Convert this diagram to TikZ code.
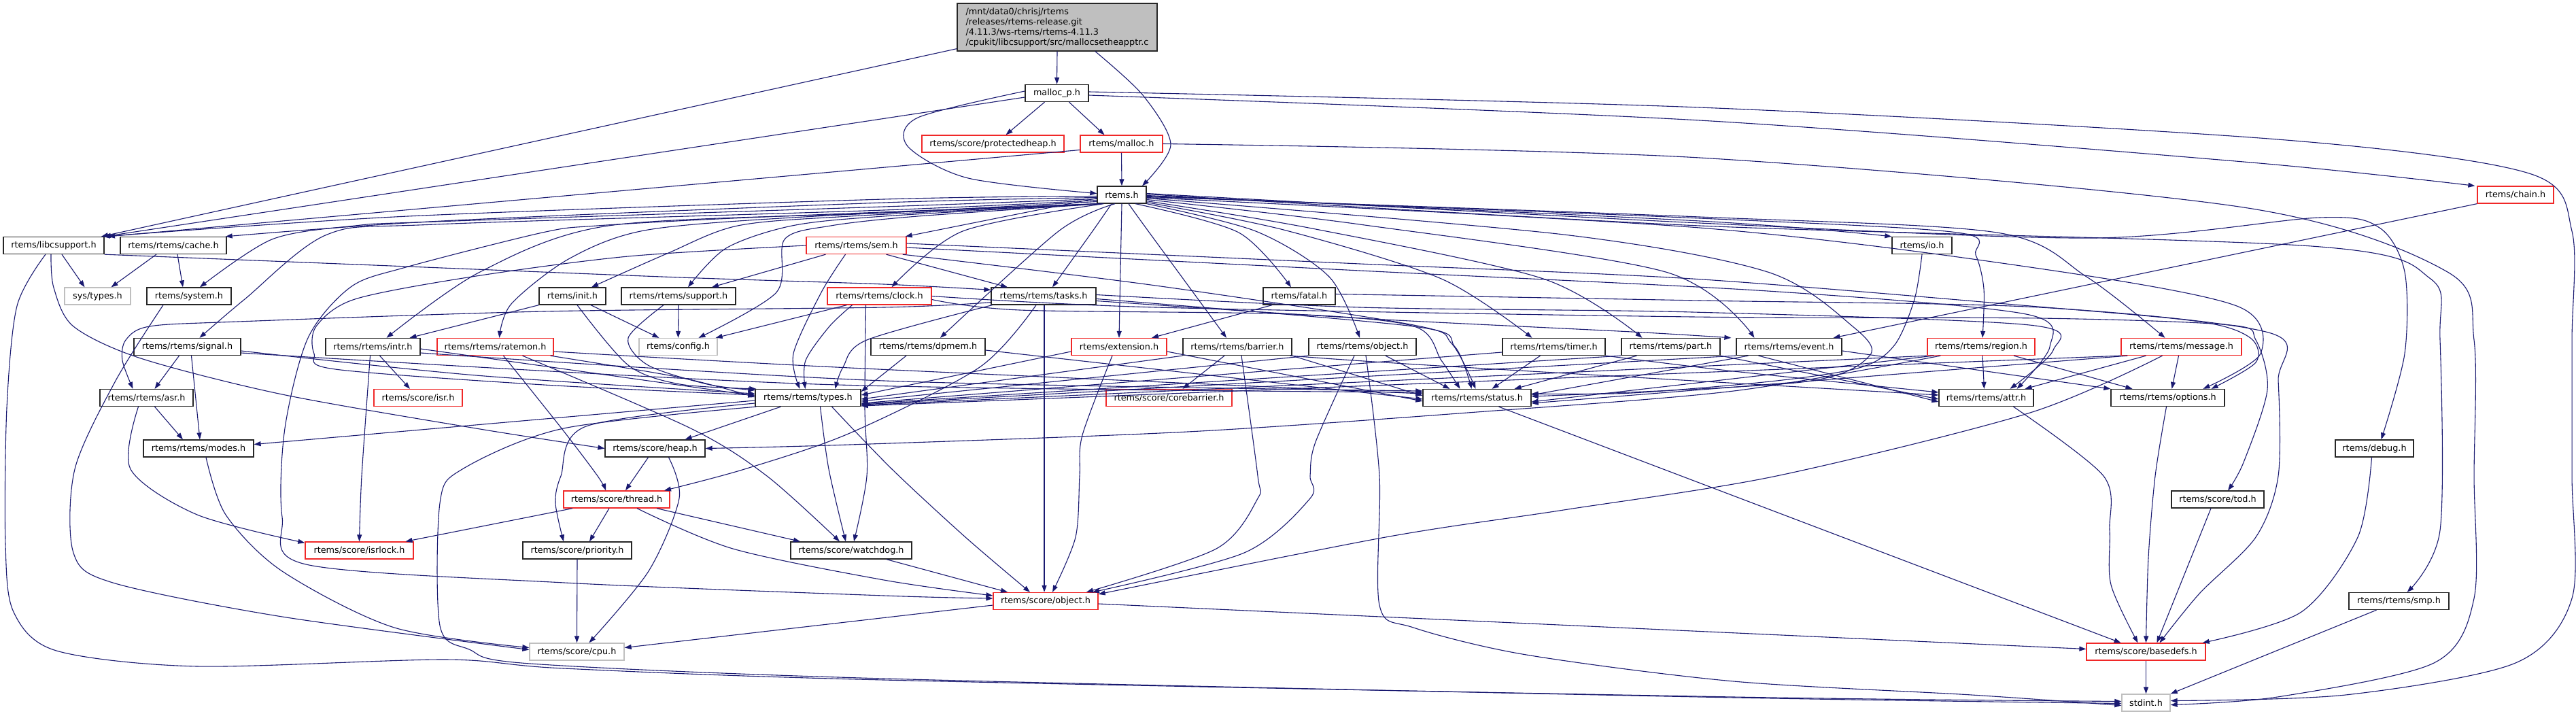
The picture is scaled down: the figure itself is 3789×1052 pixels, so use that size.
\documentclass[tikz,border=0pt]{standalone}
\usepackage{fontspec}
\newfontfamily\djv{DejaVu Sans}
\usetikzlibrary{arrows.meta}
\definecolor{navy}{RGB}{25,25,112}
\definecolor{nred}{RGB}{240,40,40}
\definecolor{ngray}{RGB}{191,191,191}
\tikzset{
  nb/.style={draw=black!85, line width=1.3pt, minimum height=25pt, inner sep=0pt, font={\djv\fontsize{12.8pt}{15pt}\selectfont}},
  nr/.style={nb, draw=nred},
  ng/.style={nb, draw=ngray},
  e/.style={draw=navy, line width=1.1pt, -{Triangle[length=10pt,width=7pt]}},
}
\begin{document}
\begin{tikzpicture}[x=1pt,y=1pt]
\useasboundingbox (0,0) rectangle (3789,-1052);
% nodes
\node[nb, fill=ngray, minimum width=294, minimum height=70, align=left] (T) at (1555,-40) {/mnt/data0/chrisj/rtems\\/releases/rtems-release.git\\/4.11.3/ws-rtems/rtems-4.11.3\\/cpukit/libcsupport/src/mallocsetheapptr.c};
\node[nb, minimum width=93] (MP) at (1554.5,-137) {malloc\_p.h};
\node[nr, minimum width=209] (PH) at (1460.5,-211.5) {rtems/score/protectedheap.h};
\node[nr, minimum width=121] (ML) at (1649.5,-211.5) {rtems/malloc.h};
\node[nb, minimum width=72] (R) at (1650,-286.5) {rtems.h};
\node[nr, minimum width=112] (CH) at (3700,-286.5) {rtems/chain.h};
\node[nb, minimum width=148] (LS) at (79,-361) {rtems/libcsupport.h};
\node[nb, minimum width=156] (CA) at (255,-361) {rtems/rtems/cache.h};
\node[nr, minimum width=147] (SEM) at (1259.5,-361) {rtems/rtems/sem.h};
\node[nb, minimum width=88] (IO) at (2827,-361) {rtems/io.h};
\node[ng, minimum width=97] (ST) at (143.5,-435.5) {sys/types.h};
\node[nb, minimum width=124] (SYS) at (278,-435.5) {rtems/system.h};
\node[nb, minimum width=98] (INIT) at (842,-435.5) {rtems/init.h};
\node[nb, minimum width=168] (SUP) at (998,-435.5) {rtems/rtems/support.h};
\node[nr, minimum width=153] (CLK) at (1293.5,-435.5) {rtems/rtems/clock.h};
\node[nb, minimum width=154] (TSK) at (1535,-435.5) {rtems/rtems/tasks.h};
\node[nb, minimum width=106] (FAT) at (1911,-435.5) {rtems/fatal.h};
\node[nb, minimum width=157] (SIG) at (275.5,-510) {rtems/rtems/signal.h};
\node[nb, minimum width=139] (INTR) at (548.5,-510) {rtems/rtems/intr.h};
\node[nr, minimum width=171] (RAT) at (728.5,-510) {rtems/rtems/ratemon.h};
\node[ng, minimum width=115] (CFG) at (997.5,-510) {rtems/config.h};
\node[nb, minimum width=168] (DPM) at (1365,-510) {rtems/rtems/dpmem.h};
\node[nr, minimum width=140] (EXT) at (1646,-510) {rtems/extension.h};
\node[nb, minimum width=160] (BAR) at (1820,-510) {rtems/rtems/barrier.h};
\node[nb, minimum width=158] (OBJ) at (2004,-510) {rtems/rtems/object.h};
\node[nb, minimum width=151] (TIM) at (2285.5,-510) {rtems/rtems/timer.h};
\node[nb, minimum width=145] (PART) at (2457.5,-510) {rtems/rtems/part.h};
\node[nb, minimum width=155] (EVT) at (2631.5,-510) {rtems/rtems/event.h};
\node[nr, minimum width=158] (REG) at (2914,-510) {rtems/rtems/region.h};
\node[nr, minimum width=177] (MSG) at (3208.5,-510) {rtems/rtems/message.h};
\node[nb, minimum width=137] (ASR) at (215.5,-585) {rtems/rtems/asr.h};
\node[nr, minimum width=130] (ISR) at (615,-585) {rtems/score/isr.h};
\node[nb, minimum width=155] (TYP) at (1188.5,-585) {rtems/rtems/types.h};
\node[nr, minimum width=185] (CB) at (1719.5,-585) {rtems/score/corebarrier.h};
\node[nb, minimum width=159] (STA) at (2172.5,-585) {rtems/rtems/status.h};
\node[nb, minimum width=139] (ATT) at (2921.5,-585) {rtems/rtems/attr.h};
\node[nb, minimum width=167] (OPT) at (3188.5,-585) {rtems/rtems/options.h};
\node[nb, minimum width=162] (MOD) at (292,-659.5) {rtems/rtems/modes.h};
\node[nb, minimum width=147] (HEAP) at (963.5,-659.5) {rtems/score/heap.h};
\node[nb, minimum width=115] (DBG) at (3492.5,-659.5) {rtems/debug.h};
\node[nr, minimum width=156] (THR) at (907,-734.5) {rtems/score/thread.h};
\node[nb, minimum width=136] (TOD) at (3262,-734.5) {rtems/score/tod.h};
\node[nr, minimum width=159] (ISRL) at (528.5,-809.5) {rtems/score/isrlock.h};
\node[nb, minimum width=160] (PRI) at (849,-809.5) {rtems/score/priority.h};
\node[nb, minimum width=178] (WD) at (1252,-809.5) {rtems/score/watchdog.h};
\node[nr, minimum width=154] (SOBJ) at (1538,-884) {rtems/score/object.h};
\node[nb, minimum width=147] (SMP) at (3528.5,-884) {rtems/rtems/smp.h};
\node[ng, minimum width=139] (CPU) at (848.5,-958.5) {rtems/score/cpu.h};
\node[nr, minimum width=175] (BD) at (3156.5,-958.5) {rtems/score/basedefs.h};
\node[ng, minimum width=71] (STD) at (3156.5,-1033.5) {stdint.h};
% ---- edges: top file
\draw[e] (T.south) -- (MP.north);
\draw[e] plot[smooth] coordinates {([xshift=56]T.south) (1681,-140) (1722,-213) ([xshift=30]R.north)};
\draw[e] ([yshift=4]T.south west) -- ([xshift=70]LS.north);
% malloc_p.h
\draw[e] plot[smooth] coordinates {([yshift=3]MP.west) (1350,-173) (1335,-215) (1424,-262) ([yshift=2]R.west)};
\draw[e] ([yshift=-6]MP.west) -- ([xshift=74]LS.north);
\draw[e] ([xshift=-18]MP.south) -- ([xshift=19]PH.north);
\draw[e] ([xshift=18]MP.south) -- ([xshift=-25]ML.north);
\draw[e] plot[smooth] coordinates {([yshift=-3]MP.east) (2500,-177) (3300,-238) ([xshift=-3]CH.north west)};
\draw[e] plot[smooth] coordinates {([yshift=2]MP.east) (2500,-158) (3350,-205) (3720,-255) (3783,-340) (3783,-500) (3783,-700) (3783,-880) (3700,-975) (3450,-1022) ([yshift=3]STD.east)};
% malloc.h
\draw[e] (ML.south) -- (R.north);
\draw[e] ([yshift=-9]ML.west) -- ([xshift=80]LS.north);
\draw[e] plot[smooth] coordinates {(ML.east) (2500,-232) (3300,-305) (3600,-400) (3639,-500) (3639,-700) (3639,-880) (3580,-975) (3350,-1025) ([yshift=-3]STD.east)};
% chain.h
\draw[e] (CH.south west) -- ([xshift=65]EVT.north);
% rtems.h
\draw[e] plot[smooth] coordinates {([yshift=-2]R.west) (1300,-293) (600,-318) ([xshift=-2]LS.north east)};
\draw[e] plot[smooth] coordinates {([yshift=-4]R.west) (1300,-298) (650,-325) ([xshift=-2]CA.north east)};
\draw[e] plot[smooth] coordinates {([yshift=-6]R.west) (1300,-304) (640,-326) (522,-332) (400,-352) ([xshift=16]SYS.north)};
\draw[e] plot[smooth] coordinates {([yshift=-8]R.west) (1300,-309) (640,-330) (481,-345) (360,-440) ([xshift=18]SIG.north)};
\draw[e] plot[smooth] coordinates {([yshift=-10]R.west) (1300,-313) (895,-332) (706,-400) ([xshift=20]INTR.north)};
\draw[e] plot[smooth] coordinates {([xshift=2]R.south west) (1200,-318) (953,-338) (838,-380) (752,-447) ([xshift=6]RAT.north)};
\draw[e] plot[smooth] coordinates {([xshift=4]R.south west) (1250,-318) (1085,-332) (981,-373) ([xshift=28]INIT.north)};
\draw[e] plot[smooth] coordinates {([xshift=6]R.south west) (1300,-318) (1165,-332) (1068,-365) ([xshift=14]SUP.north)};
\draw[e] plot[smooth] coordinates {([xshift=8]R.south west) (1350,-318) (1222,-332) (1154,-352) (1142,-430) ([xshift=30]CFG.north)};
\draw[e] ([yshift=-5]R.west) -- ([xshift=-2]SEM.north east);
\draw[e] plot[smooth] coordinates {([xshift=10]R.south west) (1416,-340) ([xshift=18]CLK.north)};
\draw[e] plot[smooth] coordinates {([xshift=-15]R.south) (1607,-340) ([xshift=13]TSK.north)};
\draw[e] plot[smooth] coordinates {([xshift=-10]R.south) (1557,-340) ([xshift=18]DPM.north)};
\draw[e] (R.south) -- (EXT.north);
\draw[e] plot[smooth] coordinates {([xshift=10]R.south) (1689,-340) ([xshift=-16]BAR.north)};
\draw[e] plot[smooth] coordinates {([xshift=20]R.south) (1822,-342) ([xshift=-12]FAT.north)};
\draw[e] plot[smooth] coordinates {(R.south east) (1847,-340) (1955,-407) ([xshift=-4]OBJ.north)};
\draw[e] plot[smooth] coordinates {([yshift=2]R.south east) (1888,-338) (2120,-410) ([xshift=-32]TIM.north)};
\draw[e] plot[smooth] coordinates {([yshift=4]R.south east) (1930,-336) (2270,-410) ([xshift=-42]PART.north)};
\draw[e] plot[smooth] coordinates {([yshift=-7]R.east) (2000,-330) (2450,-400) ([xshift=-51]EVT.north)};
\draw[e] plot[smooth] coordinates {([yshift=-1]R.east) (2500,-325) (IO.north west)};
\draw[e] plot[smooth] coordinates {([yshift=-2]R.east) (2500,-321) (2879,-342) (2906,-375) (2918,-425) ([xshift=2]REG.north)};
\draw[e] plot[smooth] coordinates {([yshift=-3]R.east) (2500,-319) (2937,-342) (3069,-407) ([xshift=-24]MSG.north)};
\draw[e] plot[smooth] coordinates {([yshift=-5]R.east) (2300,-345) (2600,-400) (2725,-480) (2750,-523) (2650,-562) ([yshift=2]STA.east)};
\draw[e] plot[smooth] coordinates {([yshift=-4]R.east) (2500,-335) (3000,-395) (3290,-450) (3325,-520) ([xshift=52]OPT.north)};
\draw[e] plot[smooth] coordinates {([yshift=2]R.east) (2500,-328) (3080,-350) (3412,-320) (3500,-335) (3537,-400) (3537,-520) ([xshift=10]DBG.north)};
\draw[e] plot[smooth] coordinates {([yshift=1]R.east) (2500,-332) (3400,-362) (3575,-410) (3589,-500) (3589,-780) ([xshift=12]SMP.north)};
\draw[e] plot[smooth] coordinates {(R.south west) (1100,-320) (878,-332) (798,-342) (597,-393) (516,-422) (453,-497) (419,-630) (415,-760) (450,-830) (830,-857) (1300,-876) ([yshift=4]SOBJ.west)};
% sem.h
\draw[e] plot[smooth] coordinates {(SEM.west) (924,-377) (694,-407) (522,-440) (465,-480) (462,-520) (493,-543) (800,-566) ([yshift=4]TYP.west)};
\draw[e] plot[smooth] coordinates {([xshift=-16]SEM.south) (1208,-430) (1167,-520) ([xshift=-12]TYP.north)};
\draw[e] ([xshift=-45]SEM.south) -- ([xshift=49]SUP.north);
\draw[e] ([xshift=44]SEM.south) -- ([xshift=-53]TSK.north);
\draw[e] plot[smooth] coordinates {([xshift=-6]SEM.south east) (1700,-420) (2079,-478) (2135,-505) ([xshift=-2]STA.north)};
\draw[e] plot[smooth] coordinates {([yshift=3]SEM.east) (2000,-388) (2489,-410) (2986,-450) (3235,-473) (3310,-497) (3318,-533) ([xshift=64]OPT.north)};
\draw[e] plot[smooth] coordinates {([yshift=-3]SEM.east) (2000,-398) (2600,-428) (2980,-462) (3015,-510) ([xshift=45]ATT.north)};
% libcsupport.h
\draw[e] ([xshift=12]LS.south) -- ([xshift=-19]ST.north);
\draw[e] plot[smooth] coordinates {(LS.south east) (600,-392) (1000,-408) (1300,-418) ([yshift=-4]TSK.north west)};
\draw[e] plot[smooth] coordinates {([xshift=-4]LS.south) (79,-423) (108,-480) (207,-527) (415,-580) (700,-630) (HEAP.west)};
\draw[e] plot[smooth] coordinates {([xshift=-12]LS.south) (25,-450) (10,-600) (8,-800) (20,-900) (83,-957) (290,-980) (655,-970) (829,-983) (1300,-1000) (2550,-1025) ([yshift=2]STD.west)};
% cache.h, system.h
\draw[e] ([xshift=-25]CA.south) -- ([xshift=20]ST.north);
\draw[e] ([xshift=6]CA.south) -- ([xshift=-9]SYS.north);
\draw[e] plot[smooth] coordinates {([xshift=-38]SYS.south) (170,-560) (110,-690) (108,-813) (166,-857) (415,-907) ([yshift=3]CPU.west)};
% signal.h, asr.h, modes.h
\draw[e] ([xshift=-12]SIG.south) -- ([xshift=12]ASR.north);
\draw[e] ([xshift=6]SIG.south) -- ([xshift=2]MOD.north);
\draw[e] plot[smooth] coordinates {([yshift=-6]SIG.east) (700,-552) ([yshift=6]TYP.west)};
\draw[e] plot[smooth] coordinates {([yshift=-9]SIG.east) (1200,-565) ([yshift=8]STA.west)};
\draw[e] ([xshift=12]ASR.south) -- ([xshift=-23]MOD.north);
\draw[e] plot[smooth] coordinates {([xshift=-12]ASR.south) (192,-690) (290,-757) ([yshift=-2]ISRL.north west)};
\draw[e] plot[smooth] coordinates {([xshift=11]MOD.south) (332,-757) (415,-840) (580,-923) ([yshift=6]CPU.west)};
% intr.h
\draw[e] ([xshift=10]INTR.south) -- ([xshift=-12]ISR.north);
\draw[e] plot[smooth] coordinates {([xshift=-4]INTR.south) (532,-700) (ISRL.north)};
\draw[e] ([yshift=-3]INTR.east) -- ([yshift=3]TYP.west);
\draw[e] plot[smooth] coordinates {([yshift=-9]INTR.east) (1300,-560) ([yshift=10]STA.west)};
% init.h, support.h
\draw[e] (INIT.south west) -- ([xshift=54]INTR.north);
\draw[e] ([xshift=27]INIT.south) -- ([xshift=-28]CFG.north);
\draw[e] plot[smooth] coordinates {([xshift=7]INIT.south) (924,-537) (1000,-565) ([xshift=2]TYP.north west)};
\draw[e] (SUP.south) -- (CFG.north);
\draw[e] plot[smooth] coordinates {([xshift=-22]SUP.south) (924,-497) (953,-537) (1040,-565) ([yshift=-2]TYP.north west)};
% ratemon.h
\draw[e] plot[smooth] coordinates {([xshift=-5]RAT.south east) (1000,-555) ([yshift=1]TYP.west)};
\draw[e] plot[smooth] coordinates {([yshift=-7]RAT.east) (1250,-541) ([yshift=6]STA.west)};
\draw[e] plot[smooth] coordinates {([xshift=12]RAT.south) (826,-630) (879,-700) ([xshift=-16]THR.north)};
\draw[e] plot[smooth] coordinates {([xshift=40]RAT.south) (1016,-630) (1128,-700) ([xshift=-17]WD.north)};
% clock.h
\draw[e] ([xshift=-48]CLK.south) -- ([xshift=-3]CFG.north east);
\draw[e] plot[smooth] coordinates {([xshift=-40]CLK.south) (1220,-480) (1185,-530) ([xshift=-4]TYP.north)};
\draw[e] plot[smooth] coordinates {([xshift=-20]CLK.south) (1272,-600) (1275,-700) ([xshift=4]WD.north)};
\draw[e] plot[smooth] coordinates {([yshift=-5]CLK.east) (1500,-456) (1900,-462) (2080,-480) (2120,-530) ([xshift=-25]STA.north)};
\draw[e] plot[smooth] coordinates {(CLK.east) (1700,-452) (2489,-466) (3000,-468) (3280,-478) (3318,-500) (3335,-573) (3300,-680) ([xshift=15]TOD.north)};
% fatal.h
\draw[e] ([xshift=-40]FAT.south) -- ([xshift=48]EXT.north);
\draw[e] plot[smooth] coordinates {([yshift=3]FAT.east) (2500,-442) (3000,-452) (3340,-490) (3351,-560) (3351,-700) (3318,-790) (3235,-873) ([xshift=20]BD.north)};
% tasks.h
\draw[e] plot[smooth] coordinates {([yshift=4]TSK.south west) (1300,-452) (800,-458) (350,-473) (220,-480) (185,-500) (180,-530) ([xshift=-20]ASR.north)};
\draw[e] plot[smooth] coordinates {([xshift=2]TSK.south west) (1275,-500) (1240,-540) ([xshift=40]TYP.north)};
\draw[e] plot[smooth] coordinates {([xshift=-11]TSK.south) (1441,-540) (1250,-637) (1095,-690) ([xshift=70]THR.north)};
\draw[e] ([xshift=1]TSK.south) -- ([xshift=-2]SOBJ.north);
\draw[e] plot[smooth] coordinates {([yshift=-4]TSK.east) (2079,-480) (2140,-510) ([xshift=-8]STA.north)};
\draw[e] plot[smooth] coordinates {([yshift=2]TSK.east) (2000,-452) (2489,-459) (2985,-478) (3020,-515) ([xshift=35]ATT.north)};
\draw[e] plot[smooth] coordinates {([yshift=-7]TSK.east) (2000,-468) (2400,-488) ([xshift=-7]EVT.north west)};
% dpmem.h, extension.h
\draw[e] ([xshift=-32]DPM.south) -- ([yshift=9]TYP.east);
\draw[e] ([yshift=-5]DPM.east) -- ([yshift=-2]STA.west);
\draw[e] ([yshift=-7]EXT.west) -- ([yshift=4]TYP.east);
\draw[e] ([yshift=-7]EXT.east) -- ([yshift=-5]STA.west);
\draw[e] plot[smooth] coordinates {([xshift=-10]EXT.south) (1592,-640) (1588,-700) (1582,-790) ([xshift=10]SOBJ.north)};
% barrier.h
\draw[e] ([xshift=-19]BAR.south) -- ([xshift=20]CB.north);
\draw[e] (BAR.south west) -- ([yshift=-2]TYP.east);
\draw[e] (BAR.south east) -- ([yshift=3]STA.west);
\draw[e] plot[smooth] coordinates {([xshift=6]BAR.south) (1850,-700) (1850,-733) (1789,-807) ([xshift=60]SOBJ.north)};
\draw[e] plot[smooth] coordinates {([xshift=-3]BAR.south east) (2100,-537) ([yshift=4]ATT.west)};
% rtems/object.h
\draw[e] (OBJ.south west) -- ([yshift=-5]TYP.east);
\draw[e] ([xshift=34]OBJ.south) -- ([xshift=-40]STA.north);
\draw[e] plot[smooth] coordinates {([xshift=-12]OBJ.south) (1935,-650) (1927,-700) (1927,-733) (1830,-813) ([xshift=69]SOBJ.north)};
\draw[e] plot[smooth] coordinates {([xshift=5]OBJ.south) (2029,-700) (2029,-890) (2079,-923) (2245,-963) (2550,-1002) (2900,-1022) ([yshift=-4]STD.west)};
% timer.h, part.h
\draw[e] ([yshift=-8]TIM.west) -- ([yshift=-8]TYP.east);
\draw[e] ([xshift=-20]TIM.south) -- ([xshift=22]STA.north);
\draw[e] plot[smooth] coordinates {(TIM.south east) (2550,-546) ([yshift=8]ATT.west)};
\draw[e] (PART.south west) -- ([yshift=-9]TYP.east);
\draw[e] ([xshift=-50]PART.south) -- ([xshift=55]STA.north);
\draw[e] (PART.south east) -- ([yshift=-2]ATT.west);
% event.h
\draw[e] (EVT.south west) -- ([yshift=-10]TYP.east);
\draw[e] ([xshift=-60]EVT.south) -- ([yshift=4]STA.east);
\draw[e] ([yshift=-6]EVT.east) -- (OPT.north west);
\draw[e] ([xshift=-45]EVT.south) -- ([yshift=-6]ATT.west);
% region.h
\draw[e] (REG.south west) -- ([yshift=-11]TYP.east);
\draw[e] ([xshift=10]REG.south west) -- ([yshift=-6]STA.east);
\draw[e] ([xshift=2]REG.south) -- ([xshift=-3]ATT.north);
\draw[e] ([xshift=48]REG.south) -- ([xshift=-52]OPT.north);
\draw[e] plot[smooth] coordinates {([xshift=20]REG.south west) (2550,-575) (2172,-606) (1747,-635) (1250,-654) (HEAP.east)};
% message.h
\draw[e] (MSG.south west) -- ([yshift=-12]TYP.east);
\draw[e] ([xshift=10]MSG.south west) -- ([yshift=-8]STA.east);
\draw[e] ([xshift=-52]MSG.south) -- ([xshift=57]ATT.north);
\draw[e] ([xshift=-4]MSG.south) -- ([xshift=6]OPT.north);
\draw[e] plot[smooth] coordinates {([xshift=-28]MSG.south) (2986,-607) (2613,-700) (2300,-750) (2038,-790) ([yshift=-3]SOBJ.north east)};
% io.h
\draw[e] plot[smooth] coordinates {(IO.south) (2816,-440) (2787,-507) (2738,-540) (2613,-560) (2400,-578) ([yshift=6]STA.east)};
% status, attr, options, tod, debug, smp, basedefs
\draw[e] ([xshift=32]STA.south) -- ([xshift=-37]BD.north);
\draw[e] plot[smooth] coordinates {([xshift=40]ATT.south) (3094,-700) (3103,-780) (3105,-860) ([xshift=-12]BD.north)};
\draw[e] plot[smooth] coordinates {([xshift=-2]OPT.south) (3170,-700) (3160,-820) (BD.north)};
\draw[e] ([xshift=-10]TOD.south) -- ([xshift=16]BD.north);
\draw[e] plot[smooth] coordinates {([xshift=-4]DBG.south) (3468,-790) (3385,-900) ([xshift=-5]BD.north east)};
\draw[e] ([xshift=-33]SMP.south) -- (STD.north east);
\draw[e] (BD.south) -- (STD.north);
% types.h
\draw[e] ([yshift=-4]TYP.west) -- ([yshift=6]MOD.east);
\draw[e] ([xshift=-40]TYP.south) -- ([xshift=44]HEAP.north);
\draw[e] plot[smooth] coordinates {([yshift=-8]TYP.west) (862,-627) (825,-700) (817,-740) ([xshift=-20]PRI.north)};
\draw[e] plot[smooth] coordinates {([xshift=2]TYP.south west) (829,-630) (680,-690) (647,-740) (647,-920) (690,-955) (780,-976) (1300,-998) (2500,-1025) ([yshift=-1]STD.west)};
\draw[e] plot[smooth] coordinates {([xshift=18]TYP.south) (1219,-690) ([xshift=-8]WD.north)};
\draw[e] plot[smooth] coordinates {([xshift=35]TYP.south) (1312,-690) (1420,-790) ([xshift=-23]SOBJ.north)};
% heap.h
\draw[e] ([xshift=-10]HEAP.south) -- ([xshift=13]THR.north);
\draw[e] plot[smooth] coordinates {([xshift=20]HEAP.south) (999,-733) (954,-840) ([xshift=18]CPU.north)};
% thread.h
\draw[e] ([xshift=-65]THR.south) -- ([xshift=68]ISRL.north);
\draw[e] ([xshift=-11]THR.south) -- ([xshift=18]PRI.north);
\draw[e] ([xshift=59]THR.south) -- ([xshift=-75]WD.north);
\draw[e] plot[smooth] coordinates {([xshift=30]THR.south) (1078,-807) (1300,-853) ([yshift=8]SOBJ.west)};
% priority, watchdog, score/object
\draw[e] (PRI.south) -- (CPU.north);
\draw[e] ([xshift=52]WD.south) -- ([xshift=-56]SOBJ.north);
\draw[e] ([yshift=-6]SOBJ.west) -- ([yshift=6]CPU.east);
\draw[e] ([yshift=-4]SOBJ.east) -- ([yshift=4]BD.west);
\end{tikzpicture}
\end{document}
